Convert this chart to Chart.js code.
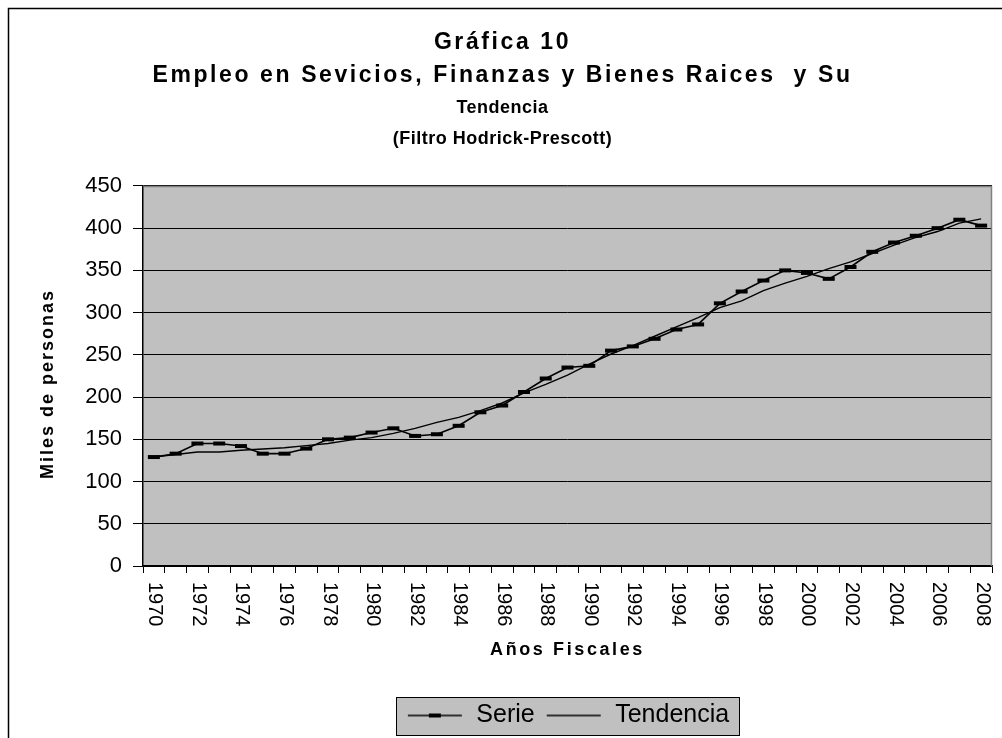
<!DOCTYPE html>
<html>
<head>
<meta charset="utf-8">
<script src="https://cdn.jsdelivr.net/npm/chart.js@4/dist/chart.umd.min.js"></script>
<style>
html,body{margin:0;padding:0;background:#fff;}
#wrap{width:1002px;height:738px;position:relative;}
</style>
</head>
<body>
<div id="wrap"><canvas id="c" width="1002" height="738"></canvas></div>
<script>
const years = ['1970','1971','1972','1973','1974','1975','1976','1977','1978','1979',
  '1980','1981','1982','1983','1984','1985','1986','1987','1988','1989',
  '1990','1991','1992','1993','1994','1995','1996','1997','1998','1999',
  '2000','2001','2002','2003','2004','2005','2006','2007','2008'];
const serie = [129,133,145,145,142,133,133,139,150,152,
  158,163,154,156,166,182,190,206,222,235,
  237,255,260,269,280,286,311,325,338,350,
  347,340,354,372,383,391,400,410,403];
const tendencia = [129,132,135,135,137,138.5,140,142.5,145,149,
  152,157,163,170,176,184,193,205,215,226,
  239,251,261,272,283,294,306,314,326,335,
  343,352,360,370,380,389,396,406,411];
const titleLines = ['Gráfica 10', 'Empleo en Sevicios, Finanzas y Bienes Raices  y Su'];
const subtitleLines = ['Tendencia', '(Filtro Hodrick-Prescott)'];
const yAxisTitle = 'Miles de personas';
const xAxisTitle = 'Años Fiscales';
const seriesNames = ['Serie', 'Tendencia'];

const FONT = "'Liberation Sans', Arial, sans-serif";

function legendImg(withMarker) {
  const c = document.createElement('canvas');
  c.width = 58; c.height = 8;
  const x = c.getContext('2d');
  x.strokeStyle = '#000'; x.lineWidth = 1.5;
  x.beginPath(); x.moveTo(2, 4); x.lineTo(56, 4); x.stroke();
  if (withMarker) { x.fillStyle = '#000'; x.fillRect(23, 2, 12, 4); }
  return c;
}
const legImgs = [legendImg(true), legendImg(false)];

function wrapSpacing(obj, method, ls, ctxGetter, dy) {
  if (!obj || obj['_ls_' + method]) return;
  const orig = obj[method];
  obj[method] = function () {
    const c = ctxGetter();
    c.save(); c.letterSpacing = ls;
    if (dy) c.translate(0, dy);
    const r = orig.apply(this, arguments); c.restore(); return r;
  };
  obj['_ls_' + method] = true;
}

const decorPlugin = {
  id: 'decor',
  beforeDraw(chart) {
    const ctx = chart.ctx, a = chart.chartArea;
    const g = () => chart.ctx;
    if (chart.titleBlock) {
      const T = chart.titleBlock.constructor;
      chart.boxes.forEach(b => {
        if (b instanceof T) wrapSpacing(b, 'draw', (b === chart.titleBlock) ? '2.6px' : '0.5px', g, 0);
      });
    }
    wrapSpacing(chart.scales.x, 'drawTitle', '2.6px', g, 0);
    wrapSpacing(chart.scales.y, 'drawTitle', '2px', g, 8);

    ctx.save();
    ctx.fillStyle = '#fff';
    ctx.fillRect(0, 0, chart.width, chart.height);
    ctx.strokeStyle = '#000';
    ctx.lineWidth = 1.5;
    ctx.strokeRect(8.5, 8.5, 1200, 900);
    ctx.fillStyle = '#c0c0c0';
    ctx.fillRect(a.left, a.top, a.right - a.left, a.bottom - a.top);
    const hb = chart.legend && chart.legend.legendHitBoxes;
    if (hb && hb.length) {
      let l = Infinity, r = -Infinity, t = Infinity, btm = -Infinity;
      hb.forEach(h => { l = Math.min(l, h.left); r = Math.max(r, h.left + h.width); t = Math.min(t, h.top); btm = Math.max(btm, h.top + h.height); });
      const bx = Math.round(l - 10) + 0.5, by = Math.round(t - 6) + 0.5;
      const bw = Math.round(r - l + 20), bh = Math.round(btm - t + 13);
      ctx.fillStyle = '#c0c0c0';
      ctx.fillRect(bx, by, bw, bh);
      ctx.lineWidth = 1;
      ctx.strokeStyle = '#000';
      ctx.strokeRect(bx, by, bw, bh);
    }
    ctx.restore();
  },
  afterDraw(chart) {
    const ctx = chart.ctx, a = chart.chartArea, xs = chart.scales.x;
    ctx.save();
    ctx.strokeStyle = '#808080';
    ctx.lineWidth = 1.5;
    ctx.beginPath();
    ctx.moveTo(a.left + 1, Math.round(a.top) + 0.5);
    ctx.lineTo(Math.round(a.right) - 0.5, Math.round(a.top) + 0.5);
    ctx.lineTo(Math.round(a.right) - 0.5, a.bottom);
    ctx.stroke();
    ctx.fillStyle = '#000';
    ctx.font = '20px ' + FONT;
    ctx.textAlign = 'left';
    ctx.textBaseline = 'middle';
    years.forEach((lab, i) => {
      if (i % 2) return;
      const x = xs.getPixelForValue(i);
      ctx.save();
      ctx.translate(x + 1, xs.top + 16);
      ctx.rotate(Math.PI / 2);
      ctx.fillText(lab, 0, 0);
      ctx.restore();
    });
    ctx.restore();
  }
};

new Chart(document.getElementById('c'), {
  type: 'line',
  data: {
    labels: years,
    datasets: [
      {
        label: seriesNames[0], data: serie,
        borderColor: '#000', borderWidth: 1.6, tension: 0,
        pointStyle: 'line', pointRadius: 6, pointBorderWidth: 4,
        pointBorderColor: '#000', pointBackgroundColor: '#000', fill: false
      },
      {
        label: seriesNames[1], data: tendencia,
        borderColor: '#000', borderWidth: 1.4, tension: 0,
        pointRadius: 0, fill: false
      }
    ]
  },
  options: {
    responsive: false,
    animation: false,
    devicePixelRatio: 1,
    layout: { padding: { left: 8, right: 5, top: 8, bottom: 0 } },
    plugins: {
      title: {
        display: true, text: titleLines, color: '#000',
        font: { family: FONT, size: 23, weight: 'bold', lineHeight: 1.435 },
        padding: { top: 18.5, bottom: 0 }
      },
      subtitle: {
        display: true, text: subtitleLines, color: '#000',
        font: { family: FONT, size: 18, weight: 'bold', lineHeight: 1.72 },
        padding: { top: 0, bottom: 31.5 }
      },
      legend: {
        display: true, position: 'bottom', fullSize: false,
        labels: {
          color: '#000', font: { family: FONT, size: 25 },
          usePointStyle: true, pointStyleWidth: 58, padding: 10,
          generateLabels(chart) {
            return chart.data.datasets.map((ds, i) => ({
              text: ds.label, pointStyle: legImgs[i], datasetIndex: i,
              fillStyle: '#000', strokeStyle: '#000', lineWidth: 0, hidden: false, fontColor: '#000'
            }));
          }
        }
      },
      tooltip: { enabled: false }
    },
    scales: {
      x: {
        type: 'category', offset: true,
        grid: { offset: true, drawOnChartArea: false, drawTicks: true, tickLength: 7, color: '#000', lineWidth: 1 },
        border: { display: true, color: '#000', width: 1.5 },
        ticks: { display: false },
        title: { display: true, text: xAxisTitle, color: '#000', font: { family: FONT, size: 18, weight: 'bold' }, padding: { top: 0, bottom: 32 } },
        afterFit(s) { s.height = 127; }
      },
      y: {
        min: 0, max: 450,
        ticks: { stepSize: 50, color: '#000', padding: 11, font: { family: FONT, size: 22 } },
        grid: { color: '#000', lineWidth: 1, drawTicks: true, tickLength: 10 },
        border: { display: true, color: '#000', width: 1.5 },
        title: { display: true, text: yAxisTitle, color: '#000', font: { family: FONT, size: 18, weight: 'bold' }, padding: { top: 29, bottom: 0 } },
        afterFit(s) { s.width = 135; }
      }
    }
  },
  plugins: [decorPlugin]
});
</script>
</body>
</html>
